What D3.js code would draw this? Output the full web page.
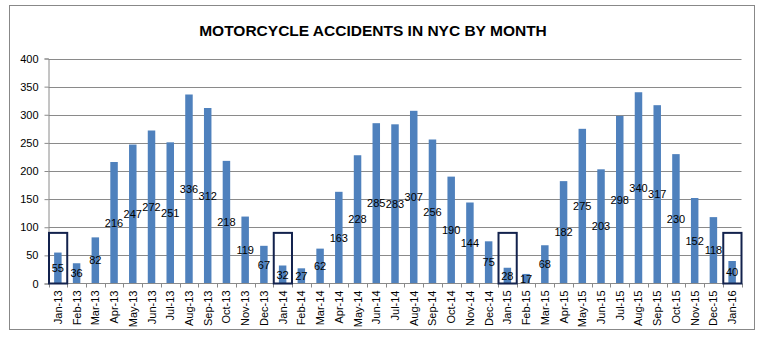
<!DOCTYPE html>
<html><head><meta charset="utf-8">
<script src="https://cdn.jsdelivr.net/npm/d3@7"></script>
<style>body{margin:0;background:#fff}svg{display:block}</style>
</head><body>
<svg id="c" width="772" height="338"></svg>
<script>
const months = ["Jan-13","Feb-13","Mar-13","Apr-13","May-13","Jun-13","Jul-13","Aug-13","Sep-13","Oct-13","Nov-13","Dec-13",
"Jan-14","Feb-14","Mar-14","Apr-14","May-14","Jun-14","Jul-14","Aug-14","Sep-14","Oct-14","Nov-14","Dec-14",
"Jan-15","Feb-15","Mar-15","Apr-15","May-15","Jun-15","Jul-15","Aug-15","Sep-15","Oct-15","Nov-15","Dec-15","Jan-16"];
const accidents = [55,36,82,216,247,272,251,336,312,218,119,67,
32,27,62,163,228,285,283,307,256,190,144,75,
28,17,68,182,275,203,298,340,317,230,152,118,40];
const highlighted = ["Jan-13","Jan-14","Jan-15","Jan-16"];
const highlightHeight = 90;
const yTicks = [0,50,100,150,200,250,300,350,400];
const title = "MOTORCYCLE ACCIDENTS IN NYC BY MONTH";

const svg = d3.select("#c");
const font = "'Liberation Sans', Arial, sans-serif";
// frame
svg.append("rect").attr("x",9.5).attr("y",5.5).attr("width",745).attr("height",324)
  .attr("fill","#fff").attr("stroke","#888").attr("stroke-width",1);

const x = d3.scaleBand().domain(months).range([48.5,741.5]).paddingInner(0).paddingOuter(0);
const y = d3.scaleLinear().domain([0,400]).range([283.5,58.5]);

// title
svg.append("text").attr("x",373).attr("y",36).attr("text-anchor","middle")
  .attr("font-family",font).attr("font-weight","bold").attr("font-size",15.5).attr("fill","#000").text(title);

// gridlines
svg.append("g").selectAll("line").data(yTicks.filter(d=>d>0)).join("line")
  .attr("x1",48.5).attr("x2",741.5).attr("y1",d=>Math.round(y(d))+0.5).attr("y2",d=>Math.round(y(d))+0.5)
  .attr("stroke","#8a8a8a").attr("stroke-width",1);

// y axis
const yAxis = d3.axisLeft(y).tickValues(yTicks).tickSize(4).tickPadding(6);
const gy = svg.append("g").attr("transform","translate(48.5,0)").call(yAxis);
gy.select(".domain").attr("stroke","#8a8a8a");
gy.selectAll(".tick line").attr("stroke","#8a8a8a");
gy.selectAll(".tick text").attr("font-family",font).attr("font-size",11).attr("fill","#000");

// bars
const bw = x.bandwidth()/2.5;
svg.append("g").selectAll("rect").data(months).join("rect")
  .attr("x",(d)=>x(d)+x.bandwidth()/2-bw/2)
  .attr("width",bw)
  .attr("y",(d,i)=>y(accidents[i]))
  .attr("height",(d,i)=>y(0)-y(accidents[i]))
  .attr("fill","#4f81bd");

// x axis
const gx = svg.append("g").attr("transform",`translate(0,${y(0)})`);
gx.append("line").attr("x1",48.5).attr("x2",741.5).attr("y1",0).attr("y2",0).attr("stroke","#8a8a8a");
const bounds = months.map(m=>x(m)).concat([x.range()[1]]);
gx.selectAll("line.tk").data(bounds).join("line").attr("class","tk")
  .attr("x1",d=>Math.round(d)+0.5).attr("x2",d=>Math.round(d)+0.5).attr("y1",0).attr("y2",4).attr("stroke","#8a8a8a");
gx.selectAll("text").data(months).join("text")
  .attr("transform",d=>`translate(${x(d)+x.bandwidth()/2+4},7) rotate(-90)`)
  .attr("text-anchor","end").attr("font-family",font).attr("font-size",11).attr("fill","#000").text(d=>d);

// highlight boxes
svg.append("g").selectAll("rect").data(highlighted).join("rect")
  .attr("x",d=>x(d)+0.5).attr("width",x.bandwidth()-0.5)
  .attr("y",y(highlightHeight)).attr("height",y(0)-y(highlightHeight))
  .attr("fill","none").attr("stroke","#13224d").attr("stroke-width",2);

// data labels
svg.append("g").selectAll("text").data(months).join("text")
  .attr("x",d=>x(d)+x.bandwidth()/2)
  .attr("y",(d,i)=>(y(accidents[i])+y(0))/2+4)
  .attr("text-anchor","middle").attr("font-family",font).attr("font-size",11).attr("fill","#000")
  .text((d,i)=>accidents[i]);
</script>
</body></html>
